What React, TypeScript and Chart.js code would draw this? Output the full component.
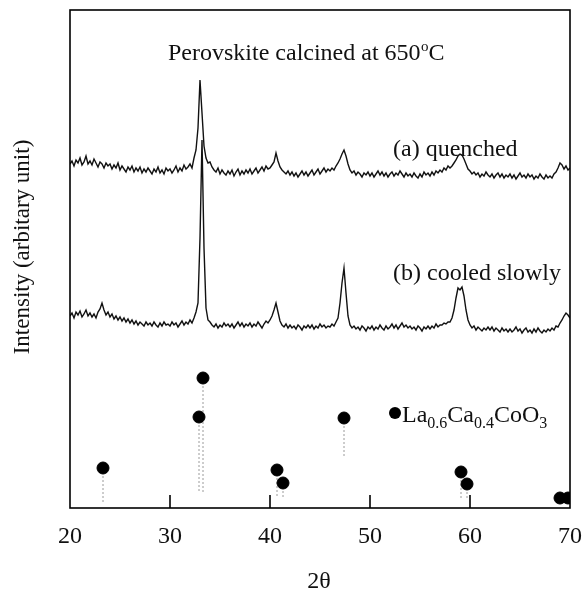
import { useEffect, useRef } from "react";
import { Chart, registerables } from "chart.js";
Chart.register(...registerables);

// 2θ sampling grid for the two scans
const START_ANGLE = 20;
const STEP_ANGLE = 0.2;

// (a) quenched — intensity (arbitrary, offset trace)
const quenched = [
  344, 347, 342, 348, 345, 350, 343, 346, 352, 344,
  347, 343, 349, 345, 341, 346, 344, 340, 345, 342,
  344, 339, 343, 340, 345, 338, 342, 339, 336, 341,
  338, 342, 336, 340, 337, 341, 335, 339, 336, 340,
  337, 334, 339, 336, 341, 335, 338, 334, 340, 337,
  339, 335, 338, 342, 336, 340, 337, 343, 339, 341,
  344, 340, 350, 358, 380, 428, 395, 362, 350, 345,
  346, 341, 338, 336, 340, 334, 338, 335, 333, 337,
  334, 338, 332, 336, 339, 333, 337, 334, 338, 335,
  339, 334, 337, 340, 335, 338, 341, 337, 342, 339,
  340, 343, 346, 355, 347, 341, 338, 336, 334, 337,
  333, 336, 332, 335, 331, 334, 337, 333, 336, 332,
  335, 338, 333, 336, 339, 334, 337, 340, 336, 339,
  337, 340, 338, 342, 345, 349, 354, 358, 352, 344,
  338, 335, 337, 333, 336, 334, 331, 335, 333, 336,
  332, 335, 331, 334, 337, 333, 336, 332, 335, 331,
  334, 336, 332, 335, 333, 337, 334, 331, 335, 332,
  334, 331, 335, 332, 330, 334, 331, 336, 333, 335,
  332, 336, 333, 337, 335, 338, 336, 340, 338, 342,
  340, 342, 345, 348, 352, 354, 353, 349, 344, 339,
  337, 334, 336, 333, 335, 331, 334, 332, 336, 333,
  331, 334, 330, 333, 335, 331, 334, 330, 333, 331,
  334, 330, 333, 329, 332, 335, 331, 333, 330, 334,
  331, 333, 329, 332, 330, 334, 331, 329, 333, 330,
  332, 330, 334, 336, 340, 345, 343, 339, 342, 338,
  340,
];

// (b) cooled slowly — intensity (arbitrary, offset trace)
const cooledSlowly = [
  192, 195, 190, 196, 193, 197, 191, 194, 198, 192,
  195, 191, 194, 190, 196, 199, 205, 198, 193, 196,
  191, 194, 189, 192, 188, 191, 187, 190, 186, 189,
  185, 188, 184, 187, 183, 186, 184, 182, 186, 183,
  185, 182, 186, 183, 181, 185, 182, 186, 183, 184,
  182, 186, 183, 185, 181, 184, 187, 183, 186, 184,
  188, 185, 190, 196, 205, 270, 368, 260, 200, 188,
  186, 183, 181, 184, 180, 183, 181, 185, 182, 184,
  181, 184, 180, 183, 186, 182, 185, 181, 184, 182,
  185, 181, 184, 182, 186, 183, 180, 184, 187, 185,
  188, 192, 198, 205, 196, 187, 183, 181, 184, 180,
  183, 180, 182, 179, 183, 181, 178, 182, 180, 183,
  180, 183, 179, 182, 180, 184, 181, 183, 180, 182,
  181, 184, 182, 186, 190, 205, 225, 240, 215, 192,
  183, 180, 182, 179, 181, 178, 182, 180, 177, 181,
  179, 182, 178, 181, 179, 183, 180, 178, 182, 179,
  181, 184, 180, 183, 179, 182, 185, 181, 183, 180,
  182, 179, 181, 178, 182, 180, 177, 181, 179, 182,
  179, 182, 180, 184, 181, 183, 183, 185, 184, 186,
  186, 190, 198, 210, 220, 218, 221, 212, 198, 188,
  183, 180, 182, 178, 181, 179, 177, 180, 178, 181,
  178, 181, 177, 180, 178, 176, 180, 177, 179, 176,
  179, 176, 178, 181, 177, 179, 175, 178, 180, 176,
  178, 175, 179, 176, 180, 177, 175, 178, 176, 179,
  177, 180, 178, 182, 181, 185, 188, 192, 195, 193,
  190,
];

// La0.6Ca0.4CoO3 reference pattern (stick positions, dot heights, stick bottoms)
const refAngles = [23.3, 32.9, 33.3, 40.7, 41.3, 47.4, 59.1, 59.7, 69.0, 69.8];
const refHeights = [40, 91, 130, 38, 25, 90, 36, 24, 10, 10];
const refStickBase = [5, 16, 16, 10, 10, 50, 8, 8, 10, 10];

const xTickValues = [20, 30, 40, 50, 60, 70];
const innerTickValues = [30, 40, 50, 60];

const FONT = "'Liberation Serif', 'Times New Roman', serif";

const textPlugin = {
  id: "textPlugin",
  afterDraw(chart: any) {
    const { ctx, chartArea, scales } = chart;
    const xs = scales.x;
    ctx.save();
    // frame
    ctx.strokeStyle = "#000";
    ctx.lineWidth = 1.6;
    ctx.strokeRect(chartArea.left, chartArea.top, chartArea.right - chartArea.left, chartArea.bottom - chartArea.top);
    // inward ticks
    innerTickValues.forEach((v) => {
      const px = xs.getPixelForValue(v);
      ctx.beginPath();
      ctx.moveTo(px, chartArea.bottom);
      ctx.lineTo(px, chartArea.bottom - 13);
      ctx.stroke();
    });

    ctx.fillStyle = "#111";
    ctx.textBaseline = "alphabetic";
    ctx.textAlign = "left";
    // title with superscript degree
    ctx.font = `24px ${FONT}`;
    let x = 168;
    const base = 60;
    const t1 = "Perovskite calcined at 650";
    ctx.fillText(t1, x, base);
    x += ctx.measureText(t1).width;
    ctx.font = `15px ${FONT}`;
    ctx.fillText("o", x + 0.5, base - 9);
    x += ctx.measureText("o").width + 0.5;
    ctx.font = `24px ${FONT}`;
    ctx.fillText("C", x, base);

    // series labels
    ctx.fillText("(a) quenched", 393, 156);
    ctx.fillText("(b) cooled slowly", 393, 280);

    // legend: dot + formula with subscripts
    ctx.beginPath();
    ctx.arc(395, 413, 6, 0, Math.PI * 2);
    ctx.fillStyle = "#000";
    ctx.fill();
    ctx.fillStyle = "#111";
    const parts: [string, boolean][] = [["La", false], ["0.6", true], ["Ca", false], ["0.4", true], ["CoO", false], ["3", true]];
    let lx = 402;
    const lb = 422;
    parts.forEach(([s, sub]) => {
      ctx.font = sub ? `16px ${FONT}` : `24px ${FONT}`;
      ctx.fillText(s, lx, sub ? lb + 6 : lb);
      lx += ctx.measureText(s).width;
    });

    // axis titles
    ctx.font = `24px ${FONT}`;
    ctx.textAlign = "center";
    ctx.fillText("2\u03B8", 319, 588);
    ctx.save();
    ctx.translate(23, 247);
    ctx.rotate(-Math.PI / 2);
    ctx.textBaseline = "middle";
    ctx.font = `23px ${FONT}`;
    ctx.fillText("Intensity (arbitary unit)", 0, 0);
    ctx.restore();
    ctx.restore();
  },
};

export default function App() {
  const ref = useRef<HTMLCanvasElement>(null);
  useEffect(() => {
    document.body.style.margin = "0";
    const toPoints = (arr: number[]) => arr.map((v, i) => ({ x: START_ANGLE + i * STEP_ANGLE, y: v }));
    const sticks: { x: number; y: number | null }[] = [];
    refAngles.forEach((a, i) => {
      sticks.push({ x: a, y: refHeights[i] });
      sticks.push({ x: a, y: refStickBase[i] });
      sticks.push({ x: a, y: null });
    });
    const chart = new Chart(ref.current!, {
      type: "line",
      data: {
        datasets: [
          { data: toPoints(quenched), borderColor: "#111", borderWidth: 1.4, pointRadius: 0, tension: 0, order: 1 },
          { data: toPoints(cooledSlowly), borderColor: "#111", borderWidth: 1.4, pointRadius: 0, tension: 0, order: 1 },
          { data: sticks as any, borderColor: "#9a9a9a", borderWidth: 1, borderDash: [2, 2], pointRadius: 0, spanGaps: false, order: 2 },
          {
            type: "scatter" as any,
            data: refAngles.map((a, i) => ({ x: a, y: refHeights[i] })),
            pointRadius: 6,
            pointBackgroundColor: "#000",
            pointBorderColor: "#000",
            showLine: false,
            order: 0,
          },
        ],
      },
      options: {
        responsive: false,
        animation: false,
        layout: { padding: { left: 70, right: 13, top: 10, bottom: 0 } },
        plugins: { legend: { display: false }, tooltip: { enabled: false } },
        scales: {
          x: {
            type: "linear",
            min: 20,
            max: 70,
            grid: { display: false, drawTicks: false },
            border: { display: false },
            afterBuildTicks: (s: any) => {
              s.ticks = xTickValues.map((v) => ({ value: v }));
            },
            afterFit: (s: any) => {
              s.height = 86;
              s.paddingLeft = 0;
              s.paddingRight = 0;
            },
            ticks: { color: "#111", padding: 14, maxRotation: 0, font: { family: FONT, size: 24 } },
          },
          y: { display: false, min: 0, max: 498 },
        },
      },
      plugins: [textPlugin],
    });
    return () => chart.destroy();
  }, []);
  return <canvas ref={ref} width={583} height={594} />;
}
